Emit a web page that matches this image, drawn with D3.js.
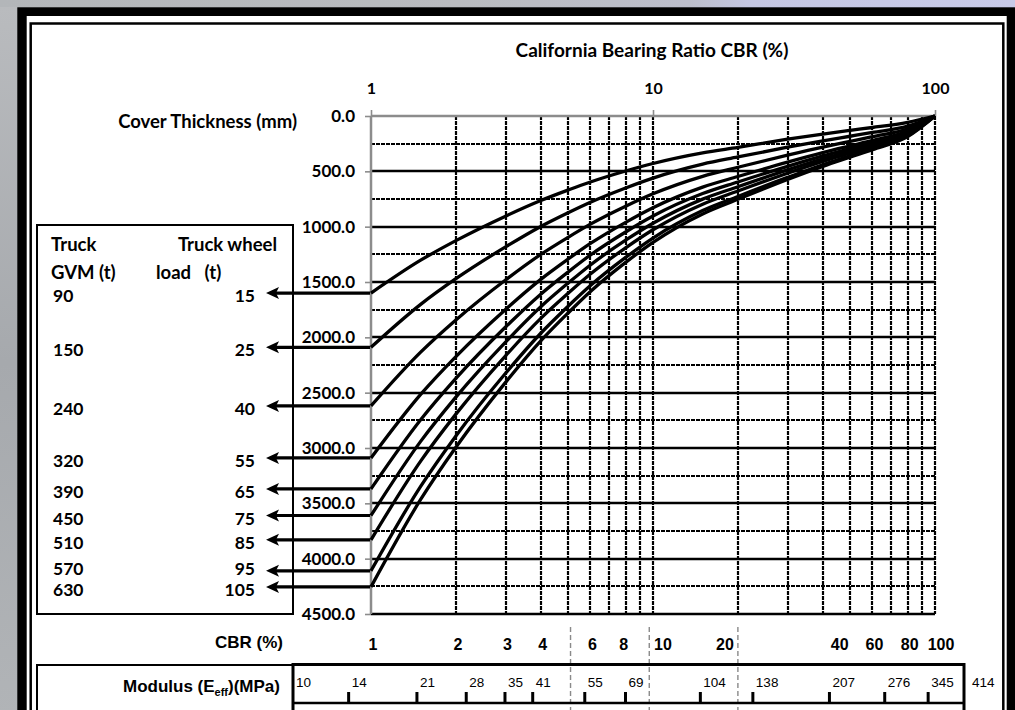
<!DOCTYPE html>
<html>
<head>
<meta charset="utf-8">
<script src="https://cdn.jsdelivr.net/npm/d3@7"></script>
<style>
  html, body { margin: 0; padding: 0; background: #fff; }
  svg { display: block; }
</style>
</head>
<body>
<svg id="chart" width="1015" height="710"></svg>
<script>
// ---- data -------------------------------------------------------------
// CBR (%) values at which each cover curve is sampled
const cbrSamples = [1, 1.5, 2, 3, 4, 5, 6, 8, 10, 15, 20, 30, 40, 50, 60, 80, 100];

// truck classes
const truckGVM  = [90, 150, 240, 320, 390, 450, 510, 570, 630];
const wheelLoad = [15, 25, 40, 55, 65, 75, 85, 95, 105];

// required cover thickness (mm) for each wheel load, one value per CBR sample
const cover15  = [1600, 1303, 1126,  905,  764,  669,  596,  497,  429, 333, 283, 210, 163, 130, 104,  57, 0];
const cover25  = [2090, 1702, 1470, 1183,  998,  874,  779,  650,  561, 435, 370, 282, 224, 183, 149,  92, 0];
const cover40  = [2620, 2134, 1843, 1482, 1251, 1096,  977,  815,  703, 545, 463, 354, 281, 229, 187, 115, 0];
const cover55  = [3090, 2516, 2174, 1748, 1476, 1293, 1152,  961,  829, 643, 547, 417, 331, 270, 221, 135, 0];
const cover65  = [3370, 2745, 2371, 1907, 1610, 1410, 1256, 1048,  904, 701, 596, 455, 361, 295, 241, 148, 0];
const cover75  = [3610, 2940, 2540, 2043, 1724, 1510, 1346, 1122,  969, 751, 639, 487, 387, 316, 258, 158, 0];
const cover85  = [3830, 3119, 2694, 2167, 1829, 1602, 1428, 1191, 1028, 797, 678, 517, 410, 335, 273, 168, 0];
const cover95  = [4110, 3347, 2891, 2325, 1963, 1719, 1532, 1278, 1103, 855, 727, 555, 440, 359, 293, 180, 0];
const cover105 = [4255, 3465, 2993, 2407, 2032, 1780, 1586, 1323, 1142, 885, 753, 574, 456, 372, 304, 186, 0];
const coverCurves = [cover15, cover25, cover40, cover55, cover65, cover75, cover85, cover95, cover105];

// axis ticks
const thicknessTicks = [0, 500, 1000, 1500, 2000, 2500, 3000, 3500, 4000, 4500];
const thicknessMinor = [250, 750, 1250, 1750, 2250, 2750, 3250, 3750, 4250];
const cbrTopTicks = [1, 10, 100];
const cbrGrid = [2, 3, 4, 5, 6, 7, 8, 9, 10, 20, 30, 40, 50, 60, 70, 80, 90, 100];

// lower scale rows
const cbrRowLabels = [1, 2, 3, 4, 6, 8, 10, 20, 40, 60, 80, 100];
const modulusValues = [10, 14, 21, 28, 35, 41, 55, 69, 104, 138, 207, 276, 345, 414];
const dividerCBR = [5.1, 9.7, 20];

// ---- setup ------------------------------------------------------------
const W = 1015, H = 710;
const svg = d3.select("#chart");
const defs = svg.append("defs");
const headFont = "Lato, 'Open Sans', sans-serif";
const plainFont = "'Liberation Sans', Arial, sans-serif";

const x = d3.scaleLog().domain([1, 100]).range([371, 935]);
const y = d3.scaleLinear().domain([0, 4500]).range([116, 614]);
const mod = d3.scalePow().exponent(0.05).domain([10, 414]).range([293, 964]);
const px = v => Math.round(v);   // snap 2px grid lines onto whole pixels

// ---- backdrop and frame ----------------------------------------------
const bg = defs.append("linearGradient").attr("id", "bgH")
  .attr("x1", 0).attr("x2", 1).attr("y1", 0).attr("y2", 0);
bg.selectAll("stop")
  .data([[0, "#b3b6b9"], [0.45, "#b9bbbf"], [0.68, "#bcbecb"], [0.74, "#c4c6e2"], [1, "#c8cae8"]])
  .join("stop").attr("offset", d => d[0]).attr("stop-color", d => d[1]);
const bgV = defs.append("linearGradient").attr("id", "bgV")
  .attr("x1", 0).attr("x2", 0).attr("y1", 0).attr("y2", 1);
bgV.selectAll("stop")
  .data([[0, "#b9bbbe"], [0.5, "#a6a9ad"], [1, "#b1b4b7"]])
  .join("stop").attr("offset", d => d[0]).attr("stop-color", d => d[1]);

svg.append("rect").attr("width", W).attr("height", H).attr("fill", "url(#bgH)");
svg.append("rect").attr("x", 0).attr("y", 7).attr("width", 17.3).attr("height", H).attr("fill", "url(#bgV)");

svg.append("rect").attr("x", 17.3).attr("y", 7.3).attr("width", 1100).attr("height", 800).attr("fill", "#000");
svg.append("rect").attr("x", 26.7).attr("y", 16).attr("width", 1006.7 - 26.7).attr("height", 800).attr("fill", "#fff");
svg.append("rect").attr("x", 30.7).attr("y", 23.5).attr("width", 1003.3 - 30.7).attr("height", 800)
  .attr("fill", "none").attr("stroke", "#000").attr("stroke-width", 2.5);

// ---- plot grid --------------------------------------------------------
const plot = svg.append("g");
const [x0, x1] = x.range();
const [y0, y1] = y.range();
const dotted = "4,1";

plot.selectAll("line.hminor").data(thicknessMinor).join("line")
  .attr("x1", x0).attr("x2", x1).attr("y1", d => px(y(d))).attr("y2", d => px(y(d)))
  .attr("stroke", "#000").attr("stroke-width", 2).attr("stroke-dasharray", dotted);
plot.selectAll("line.vgrid").data(cbrGrid).join("line")
  .attr("x1", d => px(x(d))).attr("x2", d => px(x(d))).attr("y1", y0).attr("y2", y1)
  .attr("stroke", "#000").attr("stroke-width", 2.2).attr("stroke-dasharray", dotted);
plot.selectAll("line.hmajor").data(thicknessTicks.filter(d => d > 0)).join("line")
  .attr("x1", x0).attr("x2", x1).attr("y1", d => px(y(d))).attr("y2", d => px(y(d)))
  .attr("stroke", "#000").attr("stroke-width", 2.4);

// gray axes: thickness on the left, CBR along the top
const yAxis = d3.axisLeft(y).tickValues(thicknessTicks).tickSize(6).tickFormat(d3.format(".1f"));
const gy = plot.append("g").attr("transform", `translate(${x0},0)`).call(yAxis);
gy.select(".domain").attr("stroke", "#8c8c8c").attr("stroke-width", 2.5).attr("d", `M0,${y0}V${y1}`);
gy.selectAll(".tick line").attr("stroke", "#8c8c8c").attr("stroke-width", 1.6);
gy.selectAll(".tick text").attr("x", -16).attr("fill", "#000")
  .style("font-family", headFont).style("font-weight", "700").style("font-size", "17px");

const xAxis = d3.axisTop(x).tickValues(cbrTopTicks).tickSize(6).tickFormat(d3.format("d"));
const gx = plot.append("g").attr("transform", `translate(0,${y0})`).call(xAxis);
gx.select(".domain").attr("stroke", "#8c8c8c").attr("stroke-width", 2.5).attr("d", `M${x0},0H${x1}`);
gx.selectAll(".tick line").attr("stroke", "#8c8c8c").attr("stroke-width", 1.6);
gx.selectAll(".tick text").attr("y", -22).attr("fill", "#000")
  .style("font-family", headFont).style("font-weight", "700").style("font-size", "16px");

// ---- cover curves -----------------------------------------------------
const line = d3.line()
  .x(d => x(d[0])).y(d => y(d[1]))
  .curve(d3.curveMonotoneX);
plot.selectAll("path.curve").data(coverCurves).join("path")
  .attr("d", vals => line(vals.map((v, i) => [cbrSamples[i], v])))
  .attr("fill", "none").attr("stroke", "#000").attr("stroke-width", 3.3)
  .attr("stroke-linejoin", "round");

// ---- titles -------------------------------------------------------------
svg.append("text").attr("x", 652).attr("y", 50).attr("dy", "0.35em").attr("text-anchor", "middle")
  .style("font-family", headFont).style("font-weight", "700").style("font-size", "19px")
  .text("California Bearing Ratio CBR (%)");
svg.append("text").attr("x", 297).attr("y", 122).attr("dy", "0.35em").attr("text-anchor", "end")
  .style("font-family", headFont).style("font-weight", "700").style("font-size", "18.5px")
  .text("Cover Thickness (mm)");

// ---- truck legend -------------------------------------------------------
const legend = svg.append("g");
legend.append("rect").attr("x", 37).attr("y", 225).attr("width", 256).attr("height", 389)
  .attr("fill", "none").attr("stroke", "#000").attr("stroke-width", 2);

const headStyle = s => s.style("font-family", headFont).style("font-weight", "700").style("font-size", "18.5px");
legend.append("text").attr("x", 51).attr("y", 245).attr("dy", "0.35em").text("Truck").call(headStyle);
legend.append("text").attr("x", 277).attr("y", 245).attr("dy", "0.35em").attr("text-anchor", "end").text("Truck wheel").call(headStyle);
legend.append("text").attr("x", 51).attr("y", 273).attr("dy", "0.35em").text("GVM (t)").call(headStyle);
legend.append("text").attr("x", 156).attr("y", 273).attr("dy", "0.35em").attr("xml:space", "preserve")
  .style("white-space", "pre").text("load   (t)").call(headStyle);

// each row sits level with the start of its curve, pushed up where rows would collide
const rows = wheelLoad.map((w, i) => ({ gvm: truckGVM[i], load: w, y: y(coverCurves[i][0]) }));
const labelY = rows.map(r => r.y + 3);
for (let i = labelY.length - 2; i >= 0; i--) labelY[i] = Math.min(labelY[i], labelY[i + 1] - 21);

const numStyle = s => s.style("font-family", headFont).style("font-weight", "700").style("font-size", "17.5px");
legend.selectAll("text.gvm").data(rows).join("text")
  .attr("x", 53).attr("y", (d, i) => labelY[i]).attr("dy", "0.35em")
  .text(d => d.gvm).call(numStyle);
legend.selectAll("text.load").data(rows).join("text")
  .attr("x", 255).attr("y", (d, i) => labelY[i]).attr("dy", "0.35em").attr("text-anchor", "end")
  .text(d => d.load).call(numStyle);

// arrows from each curve's starting thickness back to its wheel load
const tipX = 266;
legend.selectAll("line.shaft").data(rows).join("line")
  .attr("x1", x(1) - 1).attr("x2", tipX + 8).attr("y1", d => d.y).attr("y2", d => d.y)
  .attr("stroke", "#000").attr("stroke-width", 3.2);
legend.selectAll("path.head").data(rows).join("path")
  .attr("d", d => `M${tipX},${d.y}L${tipX + 13},${d.y - 6}L${tipX + 10},${d.y}L${tipX + 13},${d.y + 6}Z`)
  .attr("fill", "#000");

// ---- CBR and modulus scale rows --------------------------------------
const rowsG = svg.append("g");
rowsG.selectAll("line.divider").data(dividerCBR).join("line")
  .attr("x1", d => x(d)).attr("x2", d => x(d)).attr("y1", 627).attr("y2", 712)
  .attr("stroke", "#8a8a8a").attr("stroke-width", 1.4).attr("stroke-dasharray", "5,3");

rowsG.append("text").attr("x", 283).attr("y", 642).attr("dy", "0.35em").attr("text-anchor", "end")
  .style("font-family", plainFont).style("font-weight", "700").style("font-size", "17px")
  .text("CBR (%)");

const cbrAnchor = d => d === 10 || d === 40 ? "start" : d === 20 ? "end" : "middle";
const cbrNudge = d => d === 10 ? 1 : d === 20 ? -4 : d === 40 ? 8 : d === 100 ? 6 : d === 8 ? -2 : 2;
rowsG.selectAll("text.cbr").data(cbrRowLabels).join("text")
  .attr("x", d => x(d) + cbrNudge(d)).attr("y", 644).attr("dy", "0.35em")
  .attr("text-anchor", cbrAnchor)
  .style("font-family", plainFont).style("font-weight", "700").style("font-size", "16px")
  .text(d => d);

// label box and modulus box
rowsG.append("rect").attr("x", 37).attr("y", 665).attr("width", 256).attr("height", 80)
  .attr("fill", "none").attr("stroke", "#000").attr("stroke-width", 2);
const [m0, m1] = mod.range();
rowsG.append("path").attr("d", `M${m0},730V664.5H${m1}V730`)
  .attr("fill", "none").attr("stroke", "#000").attr("stroke-width", 3);
rowsG.append("line").attr("x1", m0).attr("x2", m1).attr("y1", 703).attr("y2", 703)
  .attr("stroke", "#000").attr("stroke-width", 2.5);
rowsG.selectAll("line.mtick").data(modulusValues.slice(1, -1)).join("line")
  .attr("x1", d => mod(d)).attr("x2", d => mod(d)).attr("y1", 692).attr("y2", 703)
  .attr("stroke", "#000").attr("stroke-width", 3);
rowsG.selectAll("text.mod").data(modulusValues).join("text")
  .attr("x", (d, i) => mod(d) + (i === modulusValues.length - 1 ? 8 : 3))
  .attr("y", 682).attr("dy", "0.35em")
  .style("font-family", plainFont).style("font-size", "13.5px")
  .text(d => d);

const modLabel = rowsG.append("text").attr("x", 280).attr("y", 686).attr("dy", "0.35em")
  .attr("text-anchor", "end")
  .style("font-family", plainFont).style("font-weight", "700").style("font-size", "17px");
modLabel.append("tspan").text("Modulus (E");
modLabel.append("tspan").attr("dy", 4).style("font-size", "11px").text("eff");
modLabel.append("tspan").attr("dy", -4).text(")(MPa)");
</script>
</body>
</html>
